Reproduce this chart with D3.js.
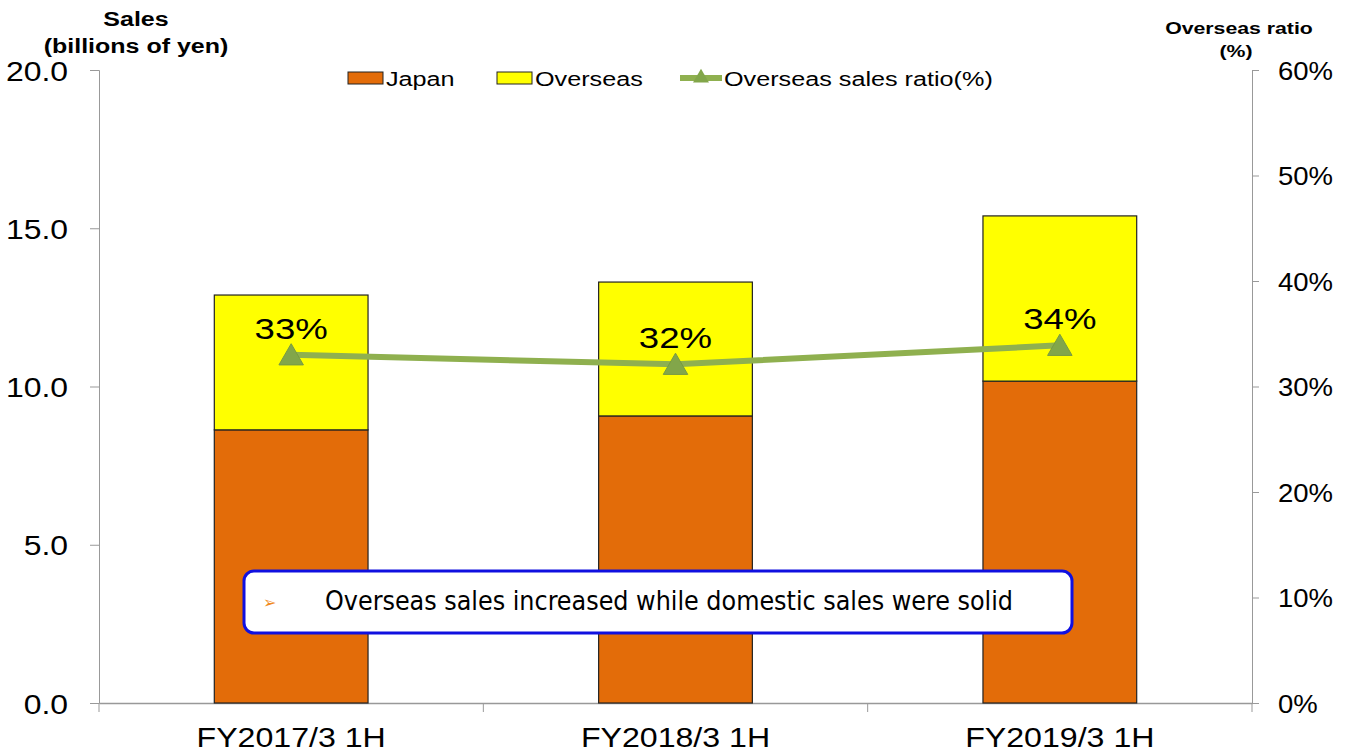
<!DOCTYPE html>
<html>
<head>
<meta charset="utf-8">
<script src="https://cdn.jsdelivr.net/npm/d3@7"></script>
<style>
  body { margin: 0; background: #fff; }
  svg { display: block; font-family: "Liberation Sans", Arial, sans-serif; }
</style>
</head>
<body>
<svg width="1349" height="755"></svg>
<script>
var categories = ["FY2017/3 1H", "FY2018/3 1H", "FY2019/3 1H"];
var japan = [8.63, 9.07, 10.17];
var overseas = [4.26, 4.23, 5.22];
var ratio = [33.0, 32.1, 33.9];
var ratioLabels = ["33%", "32%", "34%"];
var leftTicks = [0, 5, 10, 15, 20];
var rightTicks = [0, 10, 20, 30, 40, 50, 60];

var svg = d3.select("svg"),
	margin = {top: 70, right: 97, bottom: 52, left: 99},
	width = +svg.attr("width") - margin.left - margin.right,
	height = +svg.attr("height") - margin.top - margin.bottom;

// the source picture is a bit wider than tall, text looks stretched
function stretch(sel, sx, origin) {
	sel.style("transform-box", "fill-box")
		.style("transform-origin", origin)
		.style("transform", "scaleX(" + sx + ")");
	return sel;
}

var x = d3.scaleBand().domain(categories).range([0, width]).paddingInner(0.6).paddingOuter(0.3),
	xb = d3.scaleBand().domain(categories).range([0, width]),
	y = d3.scaleLinear().domain([0, 20]).range([height, 0]),
	y2 = d3.scaleLinear().domain([0, 60]).range([height, 0]);

var g = svg.append("g")
	.attr("transform", "translate(" + margin.left + "," + margin.top + ")");

// left axis
var ya = g.append("g")
	.call(d3.axisLeft(y).tickValues(leftTicks).tickFormat(d3.format(".1f")).tickSize(9).tickPadding(22));
ya.selectAll("line, path").attr("stroke", "#999");
stretch(ya.selectAll("text").style("font-size", "28px").attr("fill", "#000").attr("dy", "0.36em"), 1.14, "100% 50%");

// right axis
var y2a = g.append("g")
	.attr("transform", "translate(" + width + ",0)")
	.call(d3.axisRight(y2).tickValues(rightTicks).tickFormat(function(d) { return d + "%"; }).tickSize(7).tickSizeOuter(7).tickPadding(19));
y2a.selectAll("line, path").attr("stroke", "#999");
stretch(y2a.selectAll("text").style("font-size", "25px").attr("fill", "#000").attr("dy", "0.36em"), 1.1, "0% 50%");

// bottom axis
var xa = g.append("g")
	.attr("transform", "translate(0," + height + ")")
	.call(d3.axisBottom(xb).tickSize(0).tickPadding(25));
xa.select("path").attr("stroke", "#999").attr("stroke-width", 1.5);
stretch(xa.selectAll("text").style("font-size", "27px").attr("fill", "#000").attr("dy", "0.71em"), 1.19, "50% 50%");
g.append("g").selectAll("line")
	.data(categories.concat(["end"]))
	.enter().append("line")
	.attr("x1", function(d, i) { return i * xb.step(); })
	.attr("x2", function(d, i) { return i * xb.step(); })
	.attr("y1", height).attr("y2", height + 9)
	.attr("stroke", "#999");

// bars
g.selectAll(".japan")
	.data(categories)
	.enter().append("rect")
	.attr("class", "japan")
	.attr("x", function(d) { return x(d); })
	.attr("y", function(d, i) { return y(japan[i]); })
	.attr("width", x.bandwidth())
	.attr("height", function(d, i) { return height - y(japan[i]); })
	.attr("fill", "#e36c09")
	.attr("stroke", "#222").attr("stroke-width", 1.2);

g.selectAll(".overseas")
	.data(categories)
	.enter().append("rect")
	.attr("class", "overseas")
	.attr("x", function(d) { return x(d); })
	.attr("y", function(d, i) { return y(japan[i] + overseas[i]); })
	.attr("width", x.bandwidth())
	.attr("height", function(d, i) { return y(japan[i]) - y(japan[i] + overseas[i]); })
	.attr("fill", "#ffff00")
	.attr("stroke", "#222").attr("stroke-width", 1.2);

// ratio line
var cx = function(d, i) { return xb(categories[i]) + xb.bandwidth() / 2; };
g.append("path")
	.datum(ratio)
	.attr("fill", "none")
	.attr("stroke", "#8fb04f")
	.attr("stroke-width", 6)
	.attr("d", d3.line().x(cx).y(function(d) { return y2(d); }));

var tri = d3.symbol().type(d3.symbolTriangle).size(260);
g.selectAll(".marker")
	.data(ratio)
	.enter().append("path")
	.attr("class", "marker")
	.attr("d", tri)
	.attr("transform", function(d, i) { return "translate(" + cx(d, i) + "," + (y2(d) + 3) + ")"; })
	.attr("fill", "#82a64a")
	.attr("stroke", "#779a42");

stretch(g.selectAll(".rlabel")
	.data(ratio)
	.enter().append("text")
	.attr("class", "rlabel")
	.attr("x", cx)
	.attr("y", function(d) { return y2(d) - 16; })
	.attr("text-anchor", "middle")
	.style("font-size", "30px")
	.text(function(d, i) { return ratioLabels[i]; }), 1.22, "50% 50%");

// axis titles
function title(tx, ty, size, str) {
	return stretch(svg.append("text").attr("x", tx).attr("y", ty).attr("text-anchor", "middle")
		.style("font-size", size).style("font-weight", "bold").text(str), 1.25, "50% 50%");
}
title(136, 26, "20px", "Sales");
title(136, 53, "20px", "(billions of yen)");
title(1239, 34, "17px", "Overseas ratio");
title(1236, 57, "17px", "(%)");

// legend
var legend = svg.append("g").style("font-size", "21px");
legend.append("rect").attr("x", 348).attr("y", 72).attr("width", 35).attr("height", 12)
	.attr("fill", "#e36c09").attr("stroke", "#222");
legend.append("rect").attr("x", 497).attr("y", 72).attr("width", 35).attr("height", 12)
	.attr("fill", "#ffff00").attr("stroke", "#222");
legend.append("line").attr("x1", 680).attr("x2", 722).attr("y1", 78).attr("y2", 78)
	.attr("stroke", "#8fb04f").attr("stroke-width", 6);
legend.append("path").attr("d", d3.symbol().type(d3.symbolTriangle).size(110))
	.attr("transform", "translate(701,78)").attr("fill", "#82a64a");
stretch(legend.append("text").attr("x", 386).attr("y", 86).text("Japan"), 1.2, "0% 50%");
stretch(legend.append("text").attr("x", 535).attr("y", 86).text("Overseas"), 1.2, "0% 50%");
stretch(legend.append("text").attr("x", 724).attr("y", 86).text("Overseas sales ratio(%)"), 1.2, "0% 50%");

// annotation box
var note = svg.append("g");
note.append("rect").attr("x", 244).attr("y", 571).attr("width", 828).attr("height", 62)
	.attr("rx", 10).attr("fill", "#fff").attr("stroke", "#1010e0").attr("stroke-width", 3);
note.append("text").attr("x", 263).attr("y", 608).style("font-size", "16px").attr("fill", "#f08a20").text("➢");
note.append("text").attr("x", 325).attr("y", 610)
	.style("font-family", "'Liberation Sans Narrow', 'DejaVu Sans Condensed', sans-serif")
	.style("font-size", "26px")
	.attr("textLength", 688).attr("lengthAdjust", "spacingAndGlyphs")
	.text("Overseas sales increased while domestic sales were solid");
</script>
</body>
</html>
